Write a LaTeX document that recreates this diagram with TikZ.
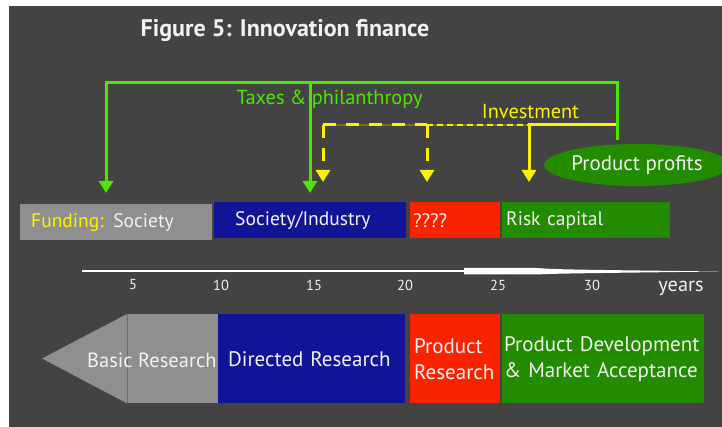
\documentclass[tikz,border=0pt]{standalone}
\usepackage{fontspec}
\setmainfont{PT Sans}
\usepackage{tikz}
\usetikzlibrary{arrows.meta,positioning,shapes.geometric,calc}
\definecolor{slate}{RGB}{67,67,67}
\definecolor{stone}{RGB}{143,143,143}
\definecolor{royal}{RGB}{17,20,150}
\definecolor{flame}{RGB}{250,35,0}
\definecolor{forest}{RGB}{34,139,0}
\definecolor{sprout}{RGB}{76,230,0}
\definecolor{lemon}{RGB}{255,242,0}
\definecolor{moss}{RGB}{112,112,52}
\definecolor{chalk}{RGB}{242,242,242}
\tikzset{
  >={Triangle[length=12pt,width=14pt]},
  headline/.style={text=chalk,font=\bfseries\fontsize{24}{28}\selectfont},
  bar/.style={fill=#1,text=chalk,minimum height=36pt,anchor=north west,align=left,
    inner ysep=0pt,font=\fontsize{19.5}{22}\selectfont},
  bar/.default=stone,
  phase/.style={fill=#1,text=chalk,minimum height=89pt,anchor=north west,align=left,
    inner ysep=0pt,font=\fontsize{21}{26}\selectfont},
  phase/.default=stone,
  money/.style={line width=3pt,draw=#1},
  money/.default=sprout,
  hint/.style={line width=3pt,draw=lemon,dash pattern=on 13pt off 10pt},
  tag/.style={text=#1,font=\fontsize{20.3}{23}\selectfont},
  tag/.default=sprout,
  tick/.style={text=chalk,font=\fontsize{14.5}{16}\selectfont},
}
\begin{document}
\begin{tikzpicture}[x=1pt,y=-1pt]
  \fill[white] (0,0) rectangle (722,427);
  \fill[slate] (9,6) rectangle (722,427);
  \useasboundingbox (0,0) rectangle (722,427);

  \node[headline] (title) at (285,31) {Figure 5: Innovation finance};

  % who pays
  \node[bar=stone,inner xsep=11pt,text width=170pt] (society) at (20,204) {\textcolor{lemon}{Funding:} Society};
  \node[bar=royal,inner xsep=21pt,text width=150pt] (industry) at (214,202) {Society/Industry};
  \node[bar=flame,inner xsep=3pt,text width=84pt] (unknown) at (410,202) {????};
  \node[bar=forest,inner xsep=4pt,text width=160pt] (risk) at (502,202) {Risk capital};
  \node[ellipse,fill=forest,text=chalk,minimum width=162pt,minimum height=42pt,inner sep=0pt,
    font=\fontsize{21}{24}\selectfont] (profits) at (637,165) {Product profits};

  % money flows
  \coordinate (taxL) at (106,83);
  \coordinate (taxM) at (310,83);
  \coordinate (taxR) at (617,83);
  \coordinate (taxB) at (617,140);
  \coordinate (invR) at (617,125);
  \coordinate (invK) at (529,125);
  \coordinate (invM) at (427,125);
  \coordinate (invL) at (323,125);

  \draw[moss,line width=1.5pt] (invL) -- (invK);
  \draw[hint] (invL) -- (invM);
  \draw[hint,line width=2pt,dash pattern=on 6pt off 4pt] (invM) -- (invK);
  \draw[hint,->,shorten >=20pt] (invL) -- (invL |- industry.north);
  \draw[hint,->,shorten >=20pt] (invM) -- (invM |- unknown.north);
  \draw[money=lemon,->,shorten >=20pt] (invR) -- (invK) -- (invK |- risk.north);
  \draw[money,->,shorten >=11pt] (taxB) -- (taxR) -- (taxL) -- (taxL |- society.north);
  \draw[money,->,shorten >=9pt] (taxM) -- (taxM |- industry.north);

  \node[tag] (taxes) at (329.5,99) {Taxes \& philanthropy};
  \node[tag=lemon] (invest) at (530.5,112) {Investment};

  % time axis
  \coordinate (ax0) at (82,271);
  \coordinate (ax1) at (464,271);
  \coordinate (ax2) at (718,271.5);
  \draw[white,line width=2pt] (ax0) -- (ax1);
  \fill[white] ($(ax1)+(0,-3)$) -- ++(72,0) .. controls (560,269.5) .. (ax2)
    .. controls (560,273.5) .. ($(ax1)+(72,3.5)$) -- ($(ax1)+(0,3.5)$) -- cycle;
  \foreach \yr/\xp in {5/133,10/221,15/314,20/405,25/498,30/592}
    \node[tick] (t\yr) at (\xp,285) {\yr};
  \node[tag=chalk] (years) at (681,288) {years};

  % research phases
  \node[phase=stone,minimum width=91pt,inner sep=0pt] (basic) at (127,314) {};
  \coordinate (tip) at (42,358.5);
  \fill[stone] (basic.north west) -- (tip) -- (basic.south west) -- cycle;
  \draw[stone!75!black,line width=0.7pt] (basic.north west) -- (basic.south west);
  \node[text=chalk,anchor=west,font=\fontsize{20.5}{26}\selectfont,inner sep=0pt] (basictext) at (87,360) {Basic Research};
  \node[phase=royal,inner xsep=10pt,text width=167pt] (directed) at (218,314) {Directed Research};
  \node[phase=flame,inner xsep=4pt,text width=82pt] (product) at (410,314) {Product\\Research};
  \node[phase=forest,inner xsep=2pt,text width=198pt] (market) at (502,314) {Product Development\\\& Market Acceptance};
\end{tikzpicture}
\end{document}
